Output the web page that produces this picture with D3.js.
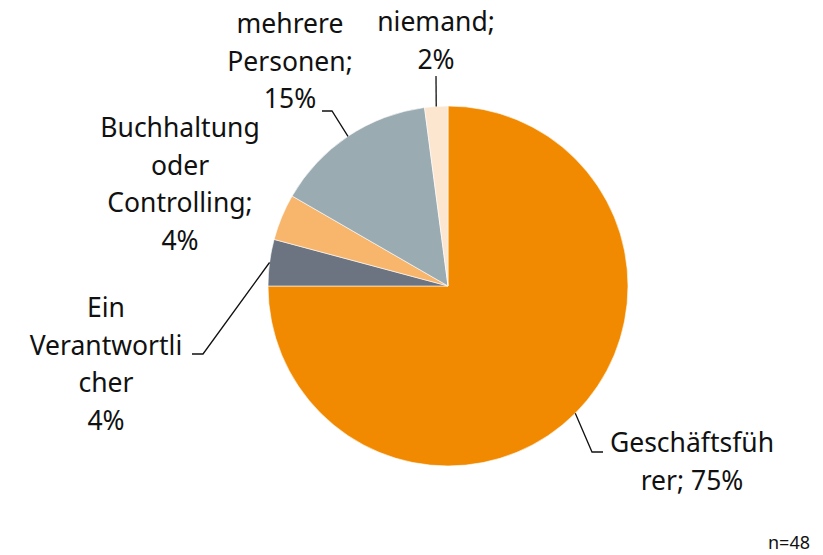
<!DOCTYPE html>
<html><head><meta charset="utf-8">
<script src="https://cdn.jsdelivr.net/npm/d3@7"></script>
<style>body{margin:0;background:#fff}svg{display:block}</style>
</head><body>
<svg id="c" width="823" height="555"></svg>
<script>
const categories = ["Geschäftsführer", "Ein Verantwortlicher", "Buchhaltung oder Controlling", "mehrere Personen", "niemand"];
const counts = [36, 2, 2, 7, 1];
const percentLabels = ["75%", "4%", "4%", "15%", "2%"];
const labelLines = [
  ["Geschäftsfüh", "rer; 75%"],
  ["Ein", "Verantwortli", "cher", "4%"],
  ["Buchhaltung", "oder", "Controlling;", "4%"],
  ["mehrere", "Personen;", "15%"],
  ["niemand;", "2%"]
];
const colors = ["#F18A00", "#6B7480", "#F8B56C", "#9BABB2", "#FDE6CF"];
const note = "n=48";

const svg = d3.select("#c");
const W = 823, H = 555;
const cx = 448, cy = 286, R = 180;
const font = "'Noto Sans', sans-serif";
const fs = 26.5, lh = 37.7;

const g = svg.append("g").attr("transform", `translate(${cx},${cy})`);
const pie = d3.pie().sort(null).value(d => d)(counts);
const arc = d3.arc().innerRadius(0).outerRadius(R);

g.selectAll("path.slice").data(pie).join("path")
  .attr("class","slice")
  .attr("d", arc)
  .attr("fill", (d,i) => colors[i])
  .attr("stroke", "#fff").attr("stroke-width", 0.6);

// label layout (relative to chart center): text center x, first baseline y, leader elbow/end
const layout = [
  {x: 244, y: 166, leader: [[144,166],[155,166]]},
  {x: -342, y: 31, leader: [[-245,68],[-256,68]]},
  {x: -268, y: -149, leader: null},
  {x: -158, y: -253, leader: [[-116,-175],[-126,-175]]},
  {x: -12, y: -255, leader: [[-12,-210]]}
];

pie.forEach((d, i) => {
  const L = layout[i];
  const t = g.append("text")
    .attr("text-anchor","middle")
    .attr("font-family", font).attr("font-size", fs).attr("fill", "#111");
  labelLines[i].forEach((ln, k) => {
    t.append("tspan").attr("x", L.x).attr("y", L.y + k*lh).text(ln);
  });
  if (L.leader) {
    const a = (d.startAngle + d.endAngle)/2;
    const start = [Math.sin(a)*R, -Math.cos(a)*R];
    const pts = [start].concat(L.leader);
    g.append("path")
      .attr("d", d3.line()(pts))
      .attr("fill","none").attr("stroke","#111").attr("stroke-width",1.3);
  }
});

svg.append("text").attr("x", 810).attr("y", 549).attr("text-anchor","end")
  .attr("font-family", font).attr("font-size", 18).attr("fill","#111").text(note);
</script>
</body></html>
